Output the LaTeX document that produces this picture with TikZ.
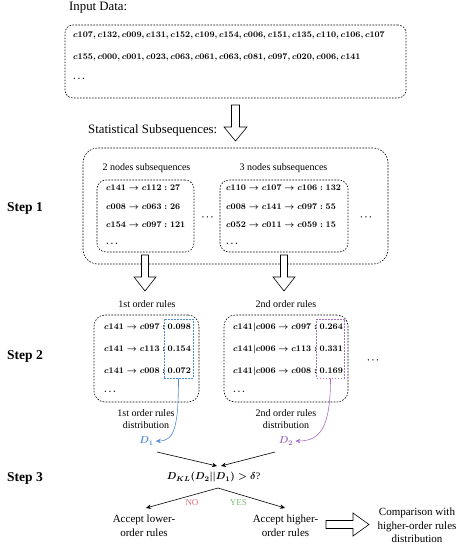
\documentclass[tikz,border=0pt]{standalone}
\usepackage[no-math]{fontspec}
\usepackage{graphicx}
\setmainfont{Liberation Serif}
\usetikzlibrary{arrows.meta}
\definecolor{dblue}{RGB}{85,140,215}
\definecolor{dpurple}{RGB}{165,110,195}
\definecolor{nored}{RGB}{225,110,120}
\definecolor{yesgreen}{RGB}{120,190,120}
\newcommand{\smath}[1]{\scalebox{0.955}{$#1$}}
\begin{document}
\begin{tikzpicture}[x=1pt,y=-1pt,
  dbox/.style={draw, dash pattern=on 1.6pt off 1.4pt, line width=0.6pt, rounded corners=#1},
  dbox/.default=10pt,
  big/.style={font=\fontsize{12.8}{15}\selectfont, inner sep=0pt},
  lbl/.style={font=\fontsize{10}{12.5}\selectfont, inner sep=0pt, align=center},
  mid/.style={font=\fontsize{11}{13.5}\selectfont, inner sep=0pt, align=center},
  mth/.style={font=\fontsize{9}{11}\selectfont\boldmath, inner sep=0pt, anchor=west},
  stepl/.style={font=\fontsize{13.5}{16}\selectfont\bfseries, inner sep=0pt, anchor=west},
  hollow/.style={draw, fill=white, line width=0.6pt, line join=miter},
  conn/.style={-{Stealth[length=5pt,width=4.5pt]}, line width=0.6pt},
  vbox/.style={draw, dash pattern=on 1.6pt off 1.4pt, line width=0.6pt, minimum width=29pt, minimum height=59pt, inner sep=0pt}
]
\useasboundingbox (0,0) rectangle (461,550);

% ---------- Input data ----------
\node[big, anchor=west] (input) at (69,7.5) {Input Data:};
\node[dbox=8pt, minimum width=341pt, minimum height=73pt] (inbox) at (235.5,61.5) {};
\node[mth] (in1) at (73,36) {\smath{c107, c132, c009, c131, c152, c109, c154, c006, c151, c135, c110, c106, c107}};
\node[mth] (in2) at (73,58) {\smath{c155, c000, c001, c023, c063, c061, c063, c081, c097, c020, c006, c141}};
\node[mth] (in3) at (73,79) {\smath{\ldots}};

% hollow arrow down
\draw[hollow] (231.5,105) -- (239.5,105) -- (239.5,127) -- (247,127) -- (235.5,141) -- (224,127) -- (231.5,127) -- cycle;
\node[big, anchor=west] (stat) at (88,130) {Statistical Subsequences:};

% ---------- Step 1 ----------
\node[stepl] (s1) at (7,208) {Step 1};
\node[dbox=15pt, minimum width=305pt, minimum height=116pt] (s1box) at (235.5,206) {};
\node[lbl] (l2n) at (146.5,168) {2 nodes subsequences};
\node[lbl] (l3n) at (283.5,168) {3 nodes subsequences};
\node[dbox=9pt, minimum width=97pt, minimum height=72pt] (b2n) at (145.5,216) {};
\node[dbox=9pt, minimum width=128pt, minimum height=72pt] (b3n) at (284,216) {};
\node[mth] (a1) at (106,188) {\smath{c141\rightarrow c112 : 27}};
\node[mth] (a2) at (106,207) {\smath{c008\rightarrow c063 : 26}};
\node[mth] (a3) at (106,225) {\smath{c154\rightarrow c097 : 121}};
\node[mth] (a4) at (106,244) {\smath{\ldots}};
\node[mth] (b1) at (226,188) {\smath{c110\rightarrow c107\rightarrow c106 : 132}};
\node[mth] (b2) at (226,207) {\smath{c008\rightarrow c141\rightarrow c097 : 55}};
\node[mth] (b3) at (226,225) {\smath{c052\rightarrow c011\rightarrow c059 : 15}};
\node[mth] (b4) at (226,244) {\smath{\ldots}};
\node[mth, anchor=center] (dots1) at (207.5,217) {\smath{\cdots}};
\node[mth, anchor=center] (dots2) at (366,217) {\smath{\cdots}};

% hollow arrows down
\draw[hollow] (141.5,255) -- (148.5,255) -- (148.5,277) -- (156,277) -- (145,291) -- (134,277) -- (141.5,277) -- cycle;
\draw[hollow] (280.5,255) -- (287.5,255) -- (287.5,277) -- (295,277) -- (284,291) -- (273,277) -- (280.5,277) -- cycle;

% ---------- Step 2 ----------
\node[stepl] (s2) at (7,356) {Step 2};
\node[lbl] (o1) at (147,304) {1st order rules};
\node[lbl] (o2) at (286,304) {2nd order rules};
\node[dbox=11pt, minimum width=105pt, minimum height=87pt] (r1box) at (146.5,358.5) {};
\node[dbox=11pt, minimum width=124pt, minimum height=87pt] (r2box) at (286,358.5) {};
\node[mth] (p1) at (104,327) {\smath{c141\rightarrow c097 :}};
\node[mth] (p2) at (104,349) {\smath{c141\rightarrow c113 :}};
\node[mth] (p3) at (104,371) {\smath{c141\rightarrow c008 :}};
\node[mth] (p4) at (104,392) {\smath{\ldots}};
\node[mth] (pv1) at (167.5,327) {\smath{0.098}};
\node[mth] (pv2) at (167.5,349) {\smath{0.154}};
\node[mth] (pv3) at (167.5,371) {\smath{0.072}};
\node[vbox, draw=dblue] (vb1) at (178.5,348.5) {};
\node[mth] (q1) at (233,327) {\smath{c141|c006\rightarrow c097 :}};
\node[mth] (q2) at (233,349) {\smath{c141|c006\rightarrow c113 :}};
\node[mth] (q3) at (233,371) {\smath{c141|c006\rightarrow c008 :}};
\node[mth] (q4) at (233,392) {\smath{\ldots}};
\node[mth] (qv1) at (319.5,327) {\smath{0.264}};
\node[mth] (qv2) at (319.5,349) {\smath{0.331}};
\node[mth] (qv3) at (319.5,371) {\smath{0.169}};
\node[vbox, draw=dpurple, minimum width=28pt] (vb2) at (330.5,348.5) {};
\node[mth, anchor=center] (dots3) at (373,360) {\smath{\cdots}};
\node[lbl] (d1l) at (146,419) {1st order rules\\distribution};
\node[lbl] (d2l) at (286,419) {2nd order rules\\distribution};

% ---------- Step 3 ----------
\node[font=\fontsize{10}{12}\selectfont\boldmath, text=dblue, inner sep=2pt] (D1) at (146.5,441) {$D_1$};
\node[font=\fontsize{10}{12}\selectfont\boldmath, text=dpurple, inner sep=2pt] (D2) at (286,441) {$D_2$};
\draw[conn, dblue] (vb1.south) .. controls (178.5,428) and (174,441) .. (D1.east);
\draw[conn, dpurple] (vb2.south) .. controls (330.5,428) and (320,441) .. (D2.east);

\node[stepl] (s3) at (7,478) {Step 3};
\node[font=\fontsize{10}{12}\selectfont\boldmath, inner sep=0pt] (dkl) at (213.5,477) {$D_{KL}(D_2||D_1) > \delta$?};
\coordinate (f1) at (157,452);
\coordinate (f2) at (275,452);
\coordinate (m1) at (217,466);
\coordinate (m2) at (221,466);
\draw[conn] (f1) -- (m1);
\draw[conn] (f2) -- (m2);
\coordinate (sp) at (218,488);
\node[mid] (acc1) at (144,525.5) {Accept lower-\\order rules};
\node[mid] (acc2) at (285.5,525.5) {Accept higher-\\order rules};
\coordinate (t1) at (146,508);
\coordinate (t2) at (285,508);
\draw[conn] (sp) -- (t1);
\draw[conn] (sp) -- (t2);
\node[font=\fontsize{9}{11}\selectfont, text=nored, inner sep=0pt] (no) at (192,503) {NO};
\node[font=\fontsize{9}{11}\selectfont, text=yesgreen, inner sep=0pt] (yes) at (238.5,503) {YES};
\draw[hollow] (326,520.5) -- (353,520.5) -- (353,513) -- (369,524.5) -- (353,536) -- (353,528.5) -- (326,528.5) -- cycle;
\node[mid] (comp) at (417,525.5) {Comparison with\\higher-order rules\\distribution};
\end{tikzpicture}
\end{document}
